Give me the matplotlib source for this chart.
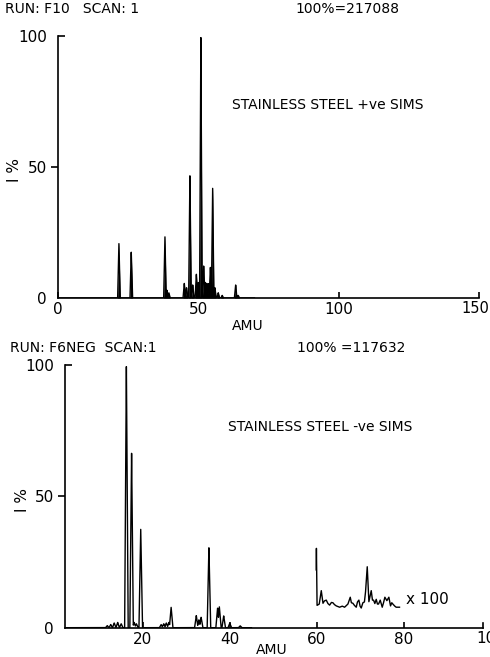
import numpy as np
import matplotlib
matplotlib.use("Agg")
import matplotlib.pyplot as plt
import matplotlib.lines as mlines

# top spectrum: stainless steel +ve SIMS (peak mass, intensity %)
pos_mass = [21.7, 26.1, 38.1, 38.8, 39.5, 45.0, 45.8, 47.0, 48.0, 49.3, 50.0,
            50.9, 51.9, 52.5, 53.0, 53.6, 54.3, 55.1, 55.9, 57.1, 58.5, 63.3, 64.2]
pos_int = [21, 17.5, 23.7, 3, 2, 5.6, 4, 46.7, 5, 9.2, 6,
           100, 12.2, 6, 5.6, 5.5, 11.7, 42.2, 4, 2, 1, 5, 1]

# bottom spectrum: stainless steel -ve SIMS
neg_mass = [11.8, 12.6, 13.4, 14.2, 15.0, 16.2, 17.4, 18.0, 18.5, 19.5, 24.2,
            24.8, 25.4, 26.0, 26.5, 32.3, 32.9, 33.4, 35.2, 37.2, 37.6, 38.6,
            40.0, 42.4]
neg_int = [0.8, 1.2, 1.8, 2.0, 1.5, 100, 66.4, 2.0, 1.5, 37.8, 1.2,
           1.5, 1.8, 2.0, 7.8, 4.6, 3.0, 4.0, 30.5, 7.5, 8.0, 4.5,
           1.7, 0.7]

# x100 expanded trace, 60-79 AMU
x100_mass = [59.9, 59.95, 60.1, 60.6, 61.07, 61.46, 61.8, 62.22, 62.6, 62.99,
             63.4, 63.75, 64.1, 64.52, 65.29, 65.9, 66.44, 67.2, 67.74, 68.0,
             68.35, 68.7, 69.12, 69.4, 69.73, 70.0, 70.27, 70.65, 71.0, 71.26,
             71.65, 72.03, 72.3, 72.57, 72.85, 73.1, 73.4, 73.72, 74.0, 74.25,
             74.64, 75.1, 75.4, 75.71, 76.17, 76.63, 77.01, 77.3, 77.55, 78.0,
             78.31, 79.08]
x100_int = [22, 30.2, 8.5, 9, 14.1, 9.3, 10.2, 10.5, 9.2, 8.6,
            9.6, 9.5, 8.8, 8.3, 7.8, 8.2, 7.8, 9.0, 11.6, 9.5,
            9.3, 8.5, 7.8, 9.8, 10.5, 8.2, 7.5, 9.5, 9.8, 13.7,
            23.2, 9.9, 12, 14.1, 10.5, 10.5, 9.2, 10.8, 9.0, 9.0,
            10.5, 7.8, 9.5, 11.6, 10.3, 11.6, 8.3, 9.5, 9.0, 8.2,
            7.8, 7.8]

W, H = 490, 657
plt.rcParams['font.family'] = ['DejaVu Sans']
plt.rcParams['font.size'] = 10
TICK_FS = 11


def trace(masses, ints, lo, hi, hw):
    # join the peaks into one line, each peak as a narrow spike
    xs = np.linspace(lo, hi, 4000)
    ys = np.zeros_like(xs)
    for m, h in zip(masses, ints):
        ys = np.maximum(ys, np.interp(xs, [m - hw, m, m + hw], [0, h, 0]))
    return xs, ys


def style(ax, xticks, xlim):
    for s in ['top', 'right']:
        ax.spines[s].set_visible(False)
    for s in ['left', 'bottom']:
        ax.spines[s].set_linewidth(1.2)
    ax.set_ylim(0, 100)
    ax.set_xlim(*xlim)
    ax.set_yticks([0, 50, 100])
    ax.set_xticks(xticks)
    ax.tick_params(axis='y', direction='out', length=5, width=1.2, pad=3,
                   labelsize=TICK_FS)
    ax.tick_params(axis='x', direction='in', length=4, width=1.2, pad=3,
                   labelsize=TICK_FS)
    ax.yaxis.get_major_ticks()[-1].tick1line.set_marker(mlines.TICKRIGHT)
    ax.yaxis.get_major_ticks()[0].tick1line.set_visible(False)


def px(x, y):
    return x / W, 1 - y / H


fig = plt.figure(figsize=(W / 100, H / 100), dpi=100)

# top panel
ax1 = fig.add_axes([58 / W, 1 - 298 / H, 421 / W, 262 / H])
xs, ys = trace(pos_mass, pos_int, 0, 70, 0.45)
ax1.plot(xs, ys, color='black', lw=1.0)
ax1.fill_between(xs, ys, color='black', lw=0)
style(ax1, [0, 50, 100, 150], (0, 150))
ax1.set_xticklabels(['0', '50', '100', ''])
# last label sits a little left of its tick so it stays inside the page
ax1.text(148.7, -1.3, '150', ha='center', va='top', clip_on=False,
         fontsize=10.5, transform=ax1.transData)
ax1.set_ylabel('I %', fontsize=11)
ax1.yaxis.set_label_coords(-0.085, 0.49)
ax1.set_xlabel('AMU')
ax1.xaxis.set_label_coords(0.451, -0.08)
fig.text(*px(5, 9), 'RUN: F10   SCAN: 1', va='center')
fig.text(*px(295, 9), '100%=217088', va='center')
fig.text(*px(232, 105), 'STAINLESS STEEL +ve SIMS', va='center')

# bottom panel
ax2 = fig.add_axes([65 / W, 1 - 627.7 / H, 418 / W, 262.7 / H])
xs, ys = trace(neg_mass, neg_int, 2.07, 45, 0.4)
ax2.plot(xs, ys, color='black', lw=1.0)
ax2.plot(x100_mass, x100_int, color='black', lw=1.0)
style(ax2, [20, 40, 60, 80], (2.07, 98.3))
ax2.text(100, -1.3, '100', ha='center', va='top', clip_on=False,
         fontsize=TICK_FS, transform=ax2.transData)
ax2.plot([98.3, 98.3], [0, 1.6], color='black', lw=1.2, clip_on=False)
ax2.set_ylabel('I %', fontsize=11)
ax2.yaxis.set_label_coords(-0.084, 0.486)
ax2.set_xlabel('AMU')
ax2.xaxis.set_label_coords(0.495, -0.06)
fig.text(*px(10, 348), 'RUN: F6NEG  SCAN:1', va='center')
fig.text(*px(297, 348), '100% =117632', va='center')
fig.text(*px(228, 427), 'STAINLESS STEEL -ve SIMS', va='center')
fig.text(*px(406, 600), 'x 100', va='center', fontsize=TICK_FS)

fig.savefig('out.png', dpi=100)
